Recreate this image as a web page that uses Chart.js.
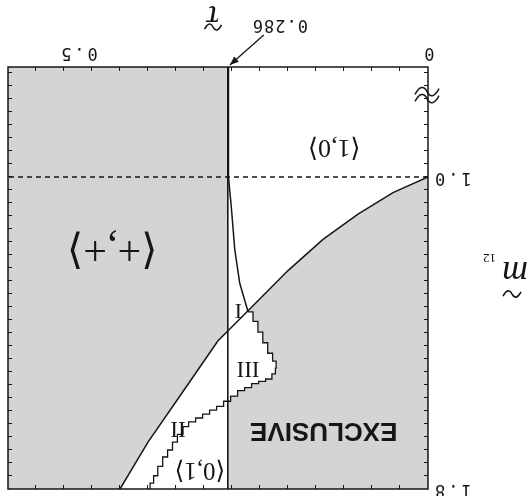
<!DOCTYPE html>
<html>
<head>
<meta charset="utf-8">
<script src="https://cdn.jsdelivr.net/npm/chart.js@4.4.1/dist/chart.umd.min.js"></script>
<style>
html,body{margin:0;padding:0;background:#ffffff;overflow:hidden;}
#wrap{position:absolute;left:0;top:0;width:529px;height:496px;transform:rotate(180deg);transform-origin:50% 50%;}
canvas{display:block;}
</style>
</head>
<body>
<div id="wrap"><canvas id="chart" width="529" height="496"></canvas></div>
<script>
// ---------------- data ----------------
const tauRange = [0, 0.6];
const mRange = [0.718, 1.8];            // lower end = broken-axis "0"
const tauLabelValues = [0, 0.5];
const tauLabelTexts = ['0', '0.5'];
const mLabelValues = [1.0, 1.8];
const mLabelTexts = ['1.0', '1.8'];
const tauCritical = 0.286;
const tauCriticalText = '0.286';
const mThreshold = 1.0;
const mBreak = 0.79;

// boundary between <+,+>/II and <1,0>/I/EXCLUSIVE
const diagTau = [0, 0.05, 0.10, 0.15, 0.20, 0.25, 0.286, 0.30, 0.35, 0.40, 0.44];
const diagM   = [1.0, 1.04, 1.095, 1.16, 1.24, 1.33, 1.395, 1.42, 1.55, 1.68, 1.80];

// smooth curve leaving the tau = 0.286 line
const curveTau = [0.285, 0.285, 0.283, 0.281, 0.276, 0.269, 0.257];
const curveM   = [0.718, 1.00, 1.04, 1.077, 1.187, 1.272, 1.346];

// jagged (staircase) boundary
const stairTau = [0.257, 0.250, 0.243, 0.236, 0.229, 0.222, 0.217, 0.218, 0.223, 0.232, 0.242, 0.252, 0.262, 0.272, 0.282, 0.292, 0.302, 0.312, 0.322, 0.332, 0.342, 0.350, 0.358, 0.365, 0.372, 0.379, 0.386, 0.392, 0.397];
const stairM   = [1.346, 1.370, 1.398, 1.425, 1.452, 1.472, 1.490, 1.505, 1.518, 1.524, 1.530, 1.540, 1.548, 1.562, 1.575, 1.588, 1.598, 1.608, 1.618, 1.628, 1.640, 1.660, 1.680, 1.700, 1.718, 1.742, 1.766, 1.785, 1.800];

// region names
const regionTexts = ['\u27E8+,+\u27E9', '\u27E81,0\u27E9', '\u27E80,1\u27E9', 'I', 'II', 'III', 'EXCLUSIVE'];

// ---------------- layout / style ----------------
const regionAnchors = [[0.451, 1.182], [0.134, 0.923], [0.326, 1.751], [0.271, 1.341], [0.357, 1.644], [0.257, 1.49], [0.149, 1.649]];
const serif = '"Liberation Serif","DejaVu Serif",serif';
const regionFonts = ['42px ' + serif, '26px ' + serif, '25px ' + serif, '22px ' + serif, '23px ' + serif, '23px ' + serif, 'bold 26px "Liberation Sans",Arial,sans-serif'];
const ink = '#161616';
const shade = '#d4d4d4';
const mono = '"DejaVu Sans Mono",monospace';

function pts(xs, ys) { return xs.map((x, i) => ({x: x, y: ys[i]})); }
const diagPts = pts(diagTau, diagM);
const curvePts = pts(curveTau, curveM);
const stairPts = pts(stairTau, stairM);

// shaded <+,+> region
const plusFill = [{x: tauCritical, y: mRange[0]}, {x: tauRange[1], y: mRange[0]}, {x: tauRange[1], y: mRange[1]}]
  .concat(diagPts.filter(p => p.x >= tauCritical).reverse());

// shaded EXCLUSIVE region
const exFill = [{x: tauRange[0], y: mThreshold}].concat(diagPts.filter(p => p.x > 0 && p.x < stairTau[0]));
(function () {
  let prev = null;
  for (const p of stairPts) {
    if (prev) {
      if (p.x > tauCritical) { exFill.push({x: tauCritical, y: prev.y}); break; }
      exFill.push({x: p.x, y: prev.y});
    }
    exFill.push(p);
    prev = p;
  }
})();
exFill.push({x: tauCritical, y: mRange[1]}, {x: tauRange[0], y: mRange[1]});

function ds(data, extra) {
  return Object.assign({data: data, showLine: true, pointRadius: 0, pointHoverRadius: 0, borderColor: ink,
    borderWidth: 1.5, fill: false, tension: 0, order: 1}, extra || {});
}

function tilde(ctx, cx, cy, w, lw) {
  const h = w / 2;
  ctx.beginPath();
  ctx.moveTo(cx - h, cy + w * 0.12);
  ctx.bezierCurveTo(cx - h * 0.6, cy - w * 0.25, cx - h * 0.25, cy - w * 0.25, cx, cy);
  ctx.bezierCurveTo(cx + h * 0.25, cy + w * 0.25, cx + h * 0.6, cy + w * 0.25, cx + h, cy - w * 0.12);
  ctx.lineWidth = lw;
  ctx.stroke();
}

const decor = {
  id: 'decor',
  beforeDraw(chart) { chart.ctx.letterSpacing = '3px'; },
  afterDatasetsDraw(chart) {
    const ctx = chart.ctx, a = chart.chartArea, xs = chart.scales.x, ys = chart.scales.y;
    ctx.save();
    ctx.letterSpacing = '0px';
    ctx.strokeStyle = ink;
    ctx.lineWidth = 1.5;
    ctx.strokeRect(a.left, a.top, a.right - a.left, a.bottom - a.top);
    ctx.lineWidth = 1;
    ctx.beginPath();
    for (let v = 0.04; v < tauRange[1] - 1e-6; v += 0.04) {
      const px = Math.round(xs.getPixelForValue(v)) + 0.5;
      ctx.moveTo(px, a.bottom); ctx.lineTo(px, a.bottom - 4);
      ctx.moveTo(px, a.top); ctx.lineTo(px, a.top + 4);
    }
    const mt = [];
    for (let v = mThreshold; v < mRange[1] - 1e-6; v += 1 / 30) mt.push(v);
    for (let v = mThreshold - 1 / 30; v > mRange[0] + 1e-6; v -= 1 / 30) mt.push(v);
    for (const v of mt) {
      const py = Math.round(ys.getPixelForValue(v)) + 0.5;
      ctx.moveTo(a.left, py); ctx.lineTo(a.left + 4, py);
      ctx.moveTo(a.right, py); ctx.lineTo(a.right - 4, py);
    }
    ctx.stroke();
    ctx.restore();
  },
  afterDraw(chart) {
    const ctx = chart.ctx, a = chart.chartArea, xs = chart.scales.x, ys = chart.scales.y;
    ctx.save();
    ctx.letterSpacing = '0px';
    ctx.fillStyle = ink;
    ctx.strokeStyle = ink;
    ctx.textAlign = 'center';
    ctx.textBaseline = 'middle';
    regionTexts.forEach((t, i) => {
      ctx.font = regionFonts[i];
      ctx.fillText(t, xs.getPixelForValue(regionAnchors[i][0]), ys.getPixelForValue(regionAnchors[i][1]));
    });
    // axis break
    const by = ys.getPixelForValue(mBreak);
    tilde(ctx, a.left + 1, by - 3.5, 24, 1.5);
    tilde(ctx, a.left + 1, by + 3.5, 24, 1.5);
    // 0.286 marker
    const xv = xs.getPixelForValue(tauCritical);
    ctx.letterSpacing = '1px';
    ctx.font = '17px ' + mono;
    ctx.fillText(tauCriticalText, xv - 52, a.bottom + 43);
    ctx.letterSpacing = '0px';
    const x0 = xv - 36, y0 = a.bottom + 32, x1 = xv - 2, y1 = a.bottom + 2;
    ctx.lineWidth = 1.3;
    ctx.beginPath(); ctx.moveTo(x0, y0); ctx.lineTo(x1, y1); ctx.stroke();
    const ang = Math.atan2(y1 - y0, x1 - x0);
    ctx.beginPath();
    ctx.moveTo(x1, y1);
    ctx.lineTo(x1 - 9 * Math.cos(ang) + 3.5 * Math.sin(ang), y1 - 9 * Math.sin(ang) - 3.5 * Math.cos(ang));
    ctx.lineTo(x1 - 9 * Math.cos(ang) - 3.5 * Math.sin(ang), y1 - 9 * Math.sin(ang) + 3.5 * Math.cos(ang));
    ctx.closePath(); ctx.fill();
    // tau axis title
    ctx.font = 'italic 34px ' + serif;
    ctx.textBaseline = 'alphabetic';
    ctx.fillText('\u03C4', 316, 490);
    tilde(ctx, 316, 469, 17, 1.6);
    // m12 axis title
    ctx.textAlign = 'left';
    ctx.font = 'italic 36px ' + serif;
    ctx.fillText('m', 1, 234);
    ctx.font = '13px ' + serif;
    ctx.fillText('12', 33, 242);
    tilde(ctx, 17, 202, 18, 1.6);
    ctx.restore();
  }
};

new Chart(document.getElementById('chart'), {
  type: 'scatter',
  data: {
    datasets: [
      ds(plusFill, {fill: 'shape', backgroundColor: shade, borderWidth: 0, borderColor: 'rgba(0,0,0,0)', order: 5}),
      ds(exFill, {fill: 'shape', backgroundColor: shade, borderWidth: 0, borderColor: 'rgba(0,0,0,0)', order: 5}),
      ds([{x: tauRange[0], y: mThreshold}, {x: tauRange[1], y: mThreshold}], {borderDash: [5, 4], borderWidth: 1.3}),
      ds([{x: tauCritical, y: mRange[0]}, {x: tauCritical, y: mRange[1]}], {borderWidth: 1.6}),
      ds(diagPts, {borderWidth: 1.5}),
      ds(curvePts, {borderWidth: 1.5}),
      ds(stairPts, {borderWidth: 1.3, stepped: 'before'})
    ]
  },
  options: {
    responsive: false,
    animation: false,
    devicePixelRatio: 1,
    layout: {padding: {top: 7, right: 8, left: 0, bottom: 0}},
    plugins: {legend: {display: false}, tooltip: {enabled: false}},
    scales: {
      x: {
        type: 'linear', min: tauRange[0], max: tauRange[1],
        afterBuildTicks: s => { s.ticks = tauLabelValues.map(v => ({value: v})); },
        ticks: {
          callback: v => { const i = tauLabelValues.indexOf(v); return i >= 0 ? tauLabelTexts[i] : ''; },
          font: {family: mono, size: 17}, color: ink, padding: 4, maxRotation: 0, autoSkip: false
        },
        grid: {display: false, drawTicks: false}, border: {display: false},
        afterFit: s => { s.height = 67; s.paddingLeft = 0; s.paddingRight = 0; }
      },
      y: {
        type: 'linear', min: mRange[0], max: mRange[1],
        afterBuildTicks: s => { s.ticks = mLabelValues.map(v => ({value: v})); },
        ticks: {
          callback: v => { const i = mLabelValues.indexOf(v); return i >= 0 ? mLabelTexts[i] : ''; },
          font: {family: mono, size: 17}, color: ink, padding: 4, autoSkip: false
        },
        grid: {display: false, drawTicks: false}, border: {display: false},
        afterFit: s => { s.width = 101; s.paddingTop = 0; s.paddingBottom = 0; }
      }
    }
  },
  plugins: [decor]
});
</script>
</body>
</html>
